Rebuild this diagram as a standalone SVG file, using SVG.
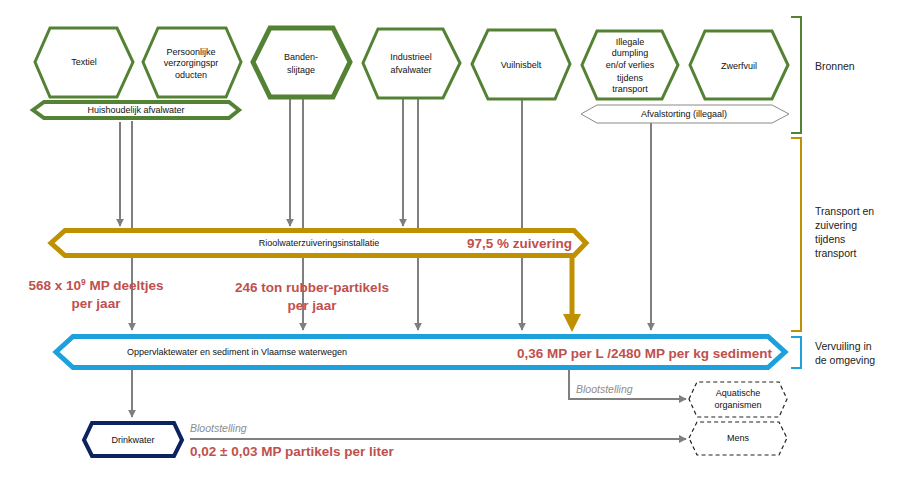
<svg xmlns="http://www.w3.org/2000/svg" width="900" height="482" viewBox="0 0 900 482">
<defs>
<marker id="ah" viewBox="0 0 10 10" refX="9" refY="5" markerWidth="4" markerHeight="4" orient="auto" markerUnits="strokeWidth">
<path d="M0,0 L10,5 L0,10 z" fill="#7f7f7f"/>
</marker>
<style>
text{font-family:"Liberation Sans",Arial,sans-serif;fill:#111}
.lbl{font-size:9px;text-anchor:middle}
.src{fill:#fff;stroke:#548235;stroke-width:3;stroke-linejoin:miter}
.red{font-weight:bold;fill:#C0504D;font-size:13.5px}
.side{font-size:10.5px;fill:#222}
.arr{fill:none;stroke:#7f7f7f;stroke-width:2;marker-end:url(#ah)}
.blo{font-size:10.5px;font-style:italic;fill:#8c8c8c}
.dash{fill:#fff;stroke:#222;stroke-width:1.2;stroke-dasharray:4 3}
.br{fill:none;stroke-width:2}
</style>
</defs>
<rect width="900" height="482" fill="#fff"/>

<g id="connectors">
<path class="arr" d="M120,122 V226"/>
<path class="arr" d="M132,121 V330"/>
<path class="arr" d="M290,98 V226"/>
<path class="arr" d="M303,98 V330"/>
<path class="arr" d="M403,99 V226"/>
<path class="arr" d="M418,99 V330"/>
<path class="arr" d="M522,99 V330"/>
<path class="arr" d="M651,123 V330"/>
<path class="arr" d="M132,370 V417"/>
<path class="arr" d="M190,439 H686"/>
<path class="arr" d="M569,370 V399 H686"/>
<path d="M572,257 V316" stroke="#BF9000" stroke-width="5" fill="none"/>
<path d="M563,314 H581 L572,332 z" fill="#BF9000"/>
</g>

<g id="textiel">
<polygon class="src" points="35,62 50,28 117,28 133,62 117,97 50,97"/>
<text class="lbl" x="84" y="65">Textiel</text>
</g>
<g id="persoonlijke">
<polygon class="src" points="143,62 158,28 226,28 241,62 226,97 158,97"/>
<text class="lbl" x="191" y="55">Persoonlijke</text>
<text class="lbl" x="191" y="66">verzorgingspr</text>
<text class="lbl" x="191" y="78">oducten</text>
</g>
<g id="banden">
<polygon class="src" style="stroke-width:5" points="253,62 270,28 333,28 350,62 333,97 270,97"/>
<text class="lbl" x="301" y="60">Banden-</text>
<text class="lbl" x="301" y="73">slijtage</text>
</g>
<g id="industrieel">
<polygon class="src" points="363,63 378,29 443,29 460,63 443,98 378,98"/>
<text class="lbl" x="411" y="60">Industrieel</text>
<text class="lbl" x="411" y="73">afvalwater</text>
</g>
<g id="vuilnisbelt">
<polygon class="src" points="472,64 488,30 555,30 570,64 555,99 488,99"/>
<text class="lbl" x="521" y="68">Vuilnisbelt</text>
</g>
<g id="illegale">
<polygon class="src" points="582,65 597,31 662,31 678,65 662,99 597,99"/>
<text class="lbl" x="630" y="45">Illegale</text>
<text class="lbl" x="630" y="56">dumpling</text>
<text class="lbl" x="630" y="68">en/of verlies</text>
<text class="lbl" x="630" y="81">tijdens</text>
<text class="lbl" x="630" y="92">transport</text>
</g>
<g id="zwerfvuil">
<polygon class="src" points="690,65 705,31 772,31 788,65 772,99 705,99"/>
<text class="lbl" x="739" y="69">Zwerfvuil</text>
</g>

<g id="huishoudelijk">
<polygon fill="#fff" stroke="#548235" stroke-width="4" points="33,110 44,102 229,102 239,110 229,118 44,118"/>
<text class="lbl" x="136" y="113">Huishoudelijk afvalwater</text>
</g>
<g id="afvalstorting">
<polygon fill="#fff" stroke="#8a8a8a" stroke-width="1" points="581,114 597,105 772,105 789,114 772,123 597,123"/>
<text class="lbl" x="684" y="117">Afvalstorting (illegaal)</text>
</g>

<g id="riool">
<polygon fill="#fff" stroke="#BF9000" stroke-width="5" points="51,243 65,230.5 574,230.5 586,243 574,255.5 65,255.5"/>
<text class="lbl" x="319" y="246">Rioolwaterzuiveringsinstallatie</text>
<text class="red" x="467" y="248">97,5 % zuivering</text>
</g>

<g id="oppervlaktewater">
<polygon fill="#fff" stroke="#1DA1DC" stroke-width="5" points="56,352 73,336.5 768,336.5 785,352 768,367.5 73,367.5"/>
<text x="127" y="355" style="font-size:9px">Oppervlaktewater en sediment in Vlaamse waterwegen</text>
<text class="red" x="772" y="358" text-anchor="end">0,36 MP per L /2480 MP per kg sediment</text>
</g>

<g id="drinkwater">
<polygon fill="#fff" stroke="#0d235f" stroke-width="4" points="84,440 92,423 174,423 182,440 174,456 92,456"/>
<text class="lbl" x="133" y="443">Drinkwater</text>
</g>

<g id="aquatische">
<polygon class="dash" points="689,399 697,382 779,382 787,399 779,417 697,417"/>
<text class="lbl" x="738" y="396">Aquatische</text>
<text class="lbl" x="738" y="408">organismen</text>
</g>
<g id="mens">
<polygon class="dash" points="689,438 697,422 779,422 787,438 779,455 697,455"/>
<text class="lbl" x="738" y="441">Mens</text>
</g>

<g id="labels">
<text class="red" x="96" y="290" text-anchor="middle">568 x 10<tspan font-size="8.5" dy="-5">9</tspan><tspan dy="5"> MP deeltjes</tspan></text>
<text class="red" x="96" y="308" text-anchor="middle">per jaar</text>
<text class="red" x="312" y="292" text-anchor="middle">246 ton rubber-partikels</text>
<text class="red" x="312" y="310" text-anchor="middle">per jaar</text>
<text class="blo" x="190" y="432">Blootstelling</text>
<text class="red" x="190" y="456">0,02 ± 0,03 MP partikels per liter</text>
<text class="blo" x="576" y="393">Blootstelling</text>
</g>

<g id="brackets">
<path class="br" stroke="#548235" d="M791,17 H801 V133 H791"/>
<text class="side" x="815" y="70">Bronnen</text>
<path class="br" stroke="#BF9000" d="M791,138 H801 V331 H791"/>
<text class="side" x="815" y="215">Transport en</text>
<text class="side" x="815" y="229">zuivering</text>
<text class="side" x="815" y="243">tijdens</text>
<text class="side" x="815" y="257">transport</text>
<path class="br" stroke="#1DA1DC" d="M791,337 H801 V368 H791"/>
<text class="side" x="815" y="350">Vervuiling in</text>
<text class="side" x="815" y="364">de omgeving</text>
</g>
</svg>
